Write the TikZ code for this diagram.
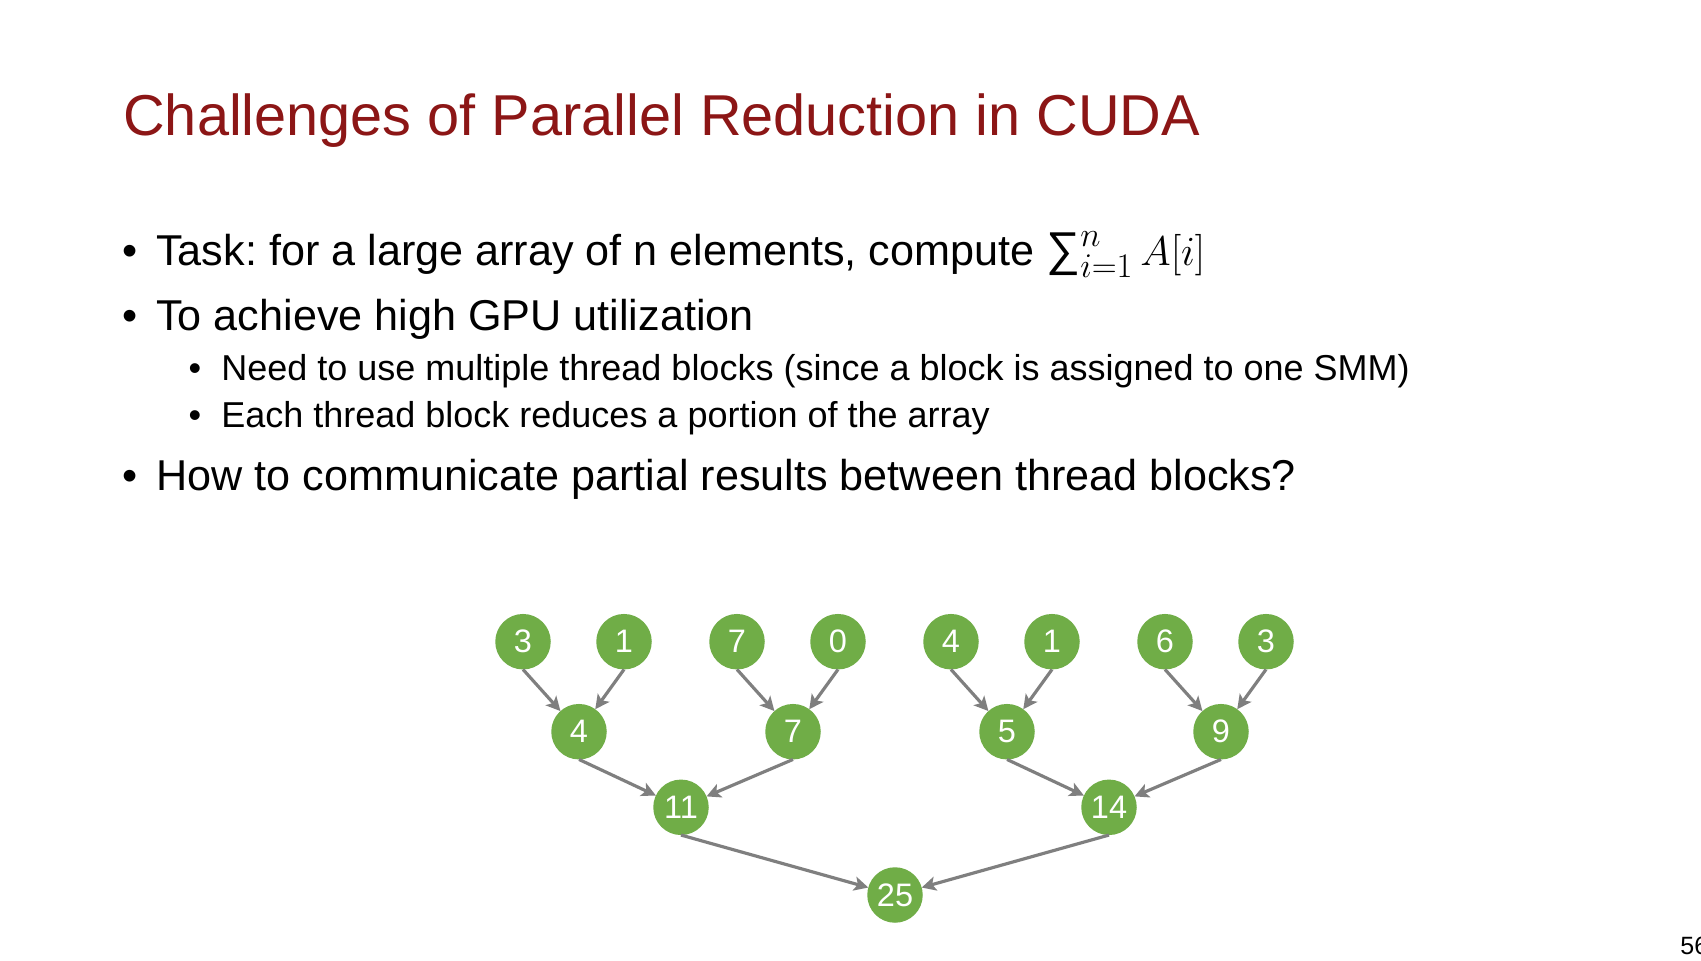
\documentclass[tikz,border=0pt]{standalone}
\usepackage{fontspec}
\setmainfont{Liberation Sans}
\usetikzlibrary{positioning,arrows.meta}
\definecolor{titlered}{RGB}{140,22,22}
\definecolor{leafgreen}{RGB}{112,173,71}
\definecolor{linkgray}{RGB}{127,127,127}
\frenchspacing

\begin{document}
\begin{tikzpicture}[x=0.6pt,y=-0.6pt,
	num/.style={circle,fill=leafgreen,text=white,minimum size=33.3pt,inner sep=0pt,outer sep=0pt,
		font=\fontsize{19.5pt}{19.5pt}\selectfont},
	link/.style={draw=linkgray,line width=1.9pt,-{Stealth[length=8.5pt,width=8.5pt,inset=2pt]}},
	mainitem/.style={anchor=base west,inner sep=0pt,font=\fontsize{25.9pt}{25.9pt}\selectfont},
	subitem/.style={anchor=base west,inner sep=0pt,font=\fontsize{21.6pt}{21.6pt}\selectfont}]
	\useasboundingbox (0,0) rectangle (1701,961);
	\fill[white] (0,0) rectangle (1701,961);

	% slide text
	\node[anchor=base west,inner sep=0pt,text=titlered,font=\fontsize{34.6pt}{34.6pt}\selectfont] (title) at (123,136)
		{Challenges of Parallel Reduction in CUDA};
	\node[mainitem] (task) at (156,265.7) {\llap{\textbullet\hspace{11pt}}Task: for a large array of n elements, compute
		{\fontsize{28.5pt}{28.5pt}\selectfont$\mathop{\hbox{∑}}\nolimits_{i=1}^{n} A[i]$}};
	\node[mainitem] (util) at (156,330.5) {\llap{\textbullet\hspace{11pt}}To achieve high GPU utilization};
	\node[subitem] (multi) at (221,380.7) {\llap{\textbullet\hspace{12pt}}Need to use multiple thread blocks (since a block is assigned to one SMM)};
	\node[subitem] (portion) at (221,427.7) {\llap{\textbullet\hspace{12pt}}Each thread block reduces a portion of the array};
	\node[mainitem] (comm) at (156,490.5) {\llap{\textbullet\hspace{11pt}}How to communicate partial results between thread blocks?};
	\node[anchor=base west,inner sep=0pt,font=\fontsize{15pt}{15pt}\selectfont] (pagenum) at (1680,954) {56};

	% reduction tree
	\node[num] (a1) at (523,641.7) {3};
	\node[num,right=27.3pt of a1] (a2) {1};
	\node[num,right=34.5pt of a2] (a3) {7};
	\node[num,right=27.3pt of a3] (a4) {0};
	\node[num,right=34.5pt of a4] (a5) {4};
	\node[num,right=27.3pt of a5] (a6) {1};
	\node[num,right=34.5pt of a6] (a7) {6};
	\node[num,right=27.3pt of a7] (a8) {3};
	\node[num] (b1) at (579,731.7) {4};
	\node[num] (b2) at (793,731.7) {7};
	\node[num] (b3) at (1007,731.7) {5};
	\node[num] (b4) at (1221,731.7) {9};
	\node[num] (c1) at (681,807.3) {11};
	\node[num] (c2) at (1109,807.3) {14};
	\node[num] (root) at (895,895) {25};

	\draw[link] (a1.south) -- (b1);
	\draw[link] (a2.south) -- (b1);
	\draw[link] (a3.south) -- (b2);
	\draw[link] (a4.south) -- (b2);
	\draw[link] (a5.south) -- (b3);
	\draw[link] (a6.south) -- (b3);
	\draw[link] (a7.south) -- (b4);
	\draw[link] (a8.south) -- (b4);
	\draw[link] (b1.south) -- (c1);
	\draw[link] (b2.south) -- (c1);
	\draw[link] (b3.south) -- (c2);
	\draw[link] (b4.south) -- (c2);
	\draw[link] (c1.south) -- (root);
	\draw[link] (c2.south) -- (root);
\end{tikzpicture}
\end{document}
